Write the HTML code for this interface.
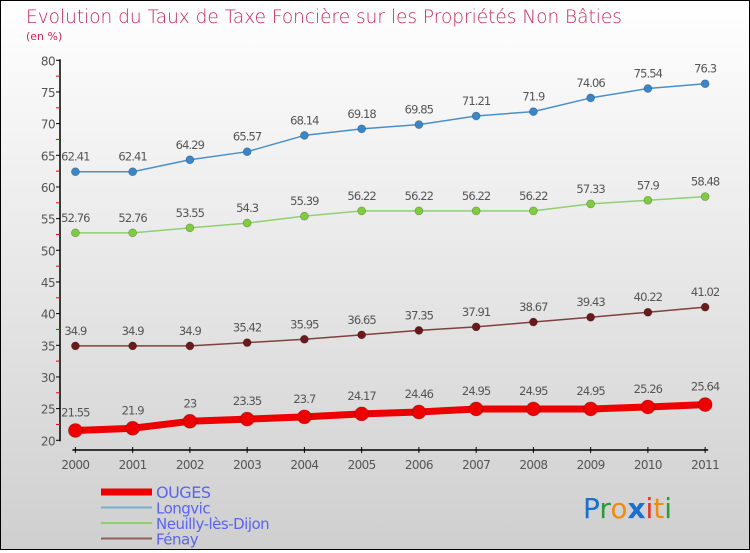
<!DOCTYPE html>
<html><head><meta charset="utf-8"><style>
html,body{margin:0;padding:0}
body{width:750px;height:550px;overflow:hidden;font-family:"DejaVu Sans","Liberation Sans",sans-serif}
#wrap{position:relative;width:748px;height:548px;border:1px solid #000;background:linear-gradient(#ffffff,#cfcfcf)}
</style></head><body>
<div id="wrap">
<svg id="chart" width="748" height="548" viewBox="0 0 748 548" xmlns="http://www.w3.org/2000/svg">
<text x="25" y="22" font-size="18.5" fill="#c8285a" font-family="DejaVu Sans,sans-serif" font-weight="200">Evolution du Taux de Taxe Foncière sur les Propriétés Non Bâties</text>
<text x="25" y="39" font-size="11" fill="#c8285a">(en %)</text>
<g id="axes"></g><g id="series"></g><g id="legend"></g>
<text x="582" y="517" font-size="28" font-family="DejaVu Sans,sans-serif"><tspan fill="#1a6fcf">P</tspan><tspan fill="#2a9a3a">r</tspan><tspan fill="#f08a10">o</tspan><tspan fill="#1a6fcf" font-weight="bold">x</tspan><tspan fill="#e83020">i</tspan><tspan fill="#f08a10">t</tspan><tspan fill="#2a9a3a">i</tspan></text>
</svg></div>
<script>
const years=["2000","2001","2002","2003","2004","2005","2006","2007","2008","2009","2010","2011"];
const yTicks=[20,25,30,35,40,45,50,55,60,65,70,75,80];
const ouges=[21.55,21.9,23,23.35,23.7,24.17,24.46,24.95,24.95,24.95,25.26,25.64];
const longvic=[62.41,62.41,64.29,65.57,68.14,69.18,69.85,71.21,71.9,74.06,75.54,76.3];
const neuilly=[52.76,52.76,53.55,54.3,55.39,56.22,56.22,56.22,56.22,57.33,57.9,58.48];
const fenay=[34.9,34.9,34.9,35.42,35.95,36.65,37.35,37.91,38.67,39.43,40.22,41.02];
const NS="http://www.w3.org/2000/svg";
const X0=74.4,DX=57.25,Y80=59.3,Y20=439.3;
function xs(i){return X0+i*DX;}
function ys(v){return Y20-(v-20)*(Y20-Y80)/60;}
function mk(t,a,p){const e=document.createElementNS(NS,t);for(const k in a)e.setAttribute(k,a[k]);(p||document.getElementById('series')).appendChild(e);return e;}
const ax=document.getElementById('axes');
let e=mk('line',{x1:59,y1:Y80-1,x2:59,y2:Y20+1,stroke:'#000','stroke-width':1.5},ax);

yTicks.forEach((v,k)=>{mk('line',{x1:55,x2:59,y1:ys(v),y2:ys(v),stroke:'#000'},ax);
 if(k<yTicks.length-1)mk('line',{x1:55,x2:59,y1:ys(v+2.5),y2:ys(v+2.5),stroke:'#e00'},ax);
 const t=mk('text',{x:54,y:ys(v)+5,'font-size':12,fill:'#555','text-anchor':'end','letter-spacing':'-0.6'},ax);t.textContent=v;
 });
e=mk('line',{x1:X0-3,x2:xs(11)+3,y1:449,y2:449,stroke:'#000','stroke-width':1.5},ax);

years.forEach((y,i)=>{mk('line',{x1:xs(i),x2:xs(i),y1:446,y2:452,stroke:'#000'},ax);
 const t=mk('text',{x:xs(i),y:468,'font-size':12,fill:'#555','text-anchor':'middle','letter-spacing':'-0.6'},ax);t.textContent=y;
 });
function series(vals,name,col,dot,w,r){
 const g=mk('g',{});
 const pl=mk('polyline',{points:vals.map((v,i)=>xs(i)+','+ys(v)).join(' '),fill:'none',stroke:col,'stroke-width':w,'stroke-linejoin':'round'},g);
 
 vals.forEach((v,i)=>{const c=mk('circle',{cx:xs(i),cy:ys(v),r:r,fill:dot,stroke:'rgba(0,0,0,0.25)','stroke-width':0.8},g);
  
  const t=mk('text',{x:xs(i),y:ys(v)-(r+7),'font-size':11.5,fill:'#555','text-anchor':'middle','letter-spacing':'-0.9'},g);t.textContent=v;
  });
}
series(longvic,'longvic','#4a90c8','#3a86c8',1.5,4);
series(neuilly,'neuilly','#90d070','#80cc40',1.5,4);
series(fenay,'fenay','#804040','#6a1a1a',1.5,4);
series(ouges,'ouges','#ee0000','#ee0000',7,7);
const lg=document.getElementById('legend');
const leg=[["OUGES","#ee0000",7,16],["Longvic","#7aaed0",2,15],["Neuilly-lès-Dijon","#90d070",2,15],["Fénay","#906060",2,15]];
leg.forEach((l,k)=>{const y=491+k*15.5;
 const ln=mk('line',{x1:100,x2:151,y1:y,y2:y,stroke:l[1],'stroke-width':l[2]},lg);
 
 const t=mk('text',{x:155,y:y+6,'font-size':l[3],fill:'#5a64f0','letter-spacing':'-0.5'},lg);t.textContent=l[0];
 });
</script>
</body></html>
